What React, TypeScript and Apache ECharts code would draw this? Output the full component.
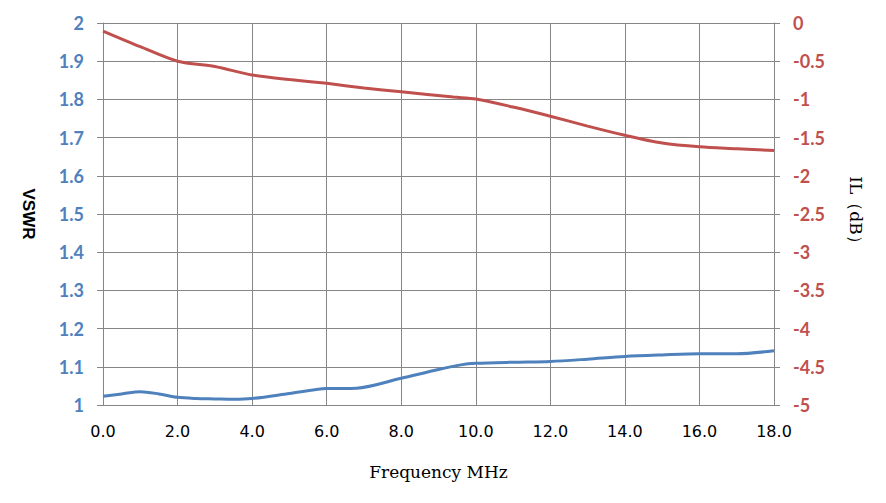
import React, { useEffect, useRef } from "react";
import * as echarts from "echarts";

const freqMHz = [0, 0.5, 1, 1.5, 2, 2.5, 3, 3.5, 4, 5, 6, 6.8, 8, 9, 9.6, 10, 11, 12, 13, 14, 15, 16, 17, 18];
const vswr = [1.023, 1.029, 1.035, 1.029, 1.02, 1.017, 1.016, 1.015, 1.017, 1.03, 1.043, 1.044, 1.07, 1.093, 1.105, 1.109, 1.112, 1.114, 1.12, 1.127, 1.131, 1.134, 1.134, 1.142];

const ilFreq = [0, 1, 2, 3, 4, 5, 6, 7, 8, 9.4, 10, 11, 12, 13, 14, 15, 16, 17, 18];
const ilDb = [-0.105, -0.31, -0.5, -0.57, -0.68, -0.74, -0.79, -0.85, -0.9, -0.97, -0.995, -1.1, -1.22, -1.35, -1.47, -1.57, -1.62, -1.645, -1.67];

const BLUE = "#4F81BD";
const RED = "#C0504D";
const GRID = "#868686";

export default function App() {
  const ref = useRef<HTMLDivElement>(null);
  useEffect(() => {
    if (!ref.current) return;
    const chart = echarts.init(ref.current, undefined, { renderer: "svg" });
    chart.setOption({
      animation: false,
      backgroundColor: "#ffffff",
      grid: { left: 103, right: 112, top: 23, bottom: 98 },
      xAxis: {
        type: "value",
        min: 0,
        max: 18,
        interval: 2,
        name: "Frequency MHz",
        nameLocation: "middle",
        nameGap: 58,
        nameTextStyle: { fontFamily: "DejaVu Serif", fontSize: 17, color: "#000" },
        axisLine: { show: true, lineStyle: { color: GRID, width: 1 } },
        axisTick: { show: true, length: 6, lineStyle: { color: GRID } },
        splitLine: { show: true, lineStyle: { color: GRID, width: 1 } },
        axisLabel: {
          margin: 18,
          fontFamily: "DejaVu Sans",
          fontSize: 16,
          color: "#000",
          formatter: (v: number) => v.toFixed(1),
        },
      },
      yAxis: [
        {
          type: "value",
          min: 1,
          max: 2,
          interval: 0.1,
          position: "left",
          name: "VSWR",
          nameLocation: "middle",
          nameRotate: -90,
          nameGap: 66,
          nameTextStyle: { fontFamily: "Liberation Sans", fontWeight: "bold", fontSize: 17, color: "#000" },
          axisLine: { show: true, lineStyle: { color: GRID, width: 1 } },
          axisTick: { show: true, length: 6, lineStyle: { color: GRID } },
          splitLine: { show: true, lineStyle: { color: GRID, width: 1 } },
          axisLabel: {
            margin: 19,
            fontFamily: "Lato",
            fontWeight: "bold",
            fontSize: 18,
            color: BLUE,
            formatter: (v: number) => String(Math.round(v * 10) / 10),
          },
        },
        {
          type: "value",
          min: -5,
          max: 0,
          interval: 0.5,
          position: "right",
          name: "IL\uFF08dB\uFF09",
          nameLocation: "middle",
          nameRotate: -90,
          nameGap: 73,
          nameTextStyle: { fontFamily: "DejaVu Serif", fontSize: 17, color: "#000" },
          axisLine: { show: true, lineStyle: { color: GRID, width: 1 } },
          axisTick: { show: true, length: 6, lineStyle: { color: GRID } },
          splitLine: { show: false },
          axisLabel: {
            margin: 19,
            fontFamily: "Lato",
            fontWeight: "bold",
            fontSize: 18,
            color: RED,
            formatter: (v: number) => String(Math.round(v * 10) / 10),
          },
        },
      ],
      series: [
        {
          name: "VSWR",
          type: "line",
          yAxisIndex: 0,
          smooth: 0.3,
          showSymbol: false,
          lineStyle: { color: BLUE, width: 3 },
          data: freqMHz.map((f, i) => [f, vswr[i]]),
        },
        {
          name: "IL",
          type: "line",
          yAxisIndex: 1,
          smooth: 0.3,
          showSymbol: false,
          lineStyle: { color: RED, width: 3 },
          data: ilFreq.map((f, i) => [f, ilDb[i]]),
        },
      ],
    });
    return () => chart.dispose();
  }, []);
  return <div ref={ref} style={{ width: 886, height: 503, position: "absolute", left: 0, top: 0 }} />;
}
